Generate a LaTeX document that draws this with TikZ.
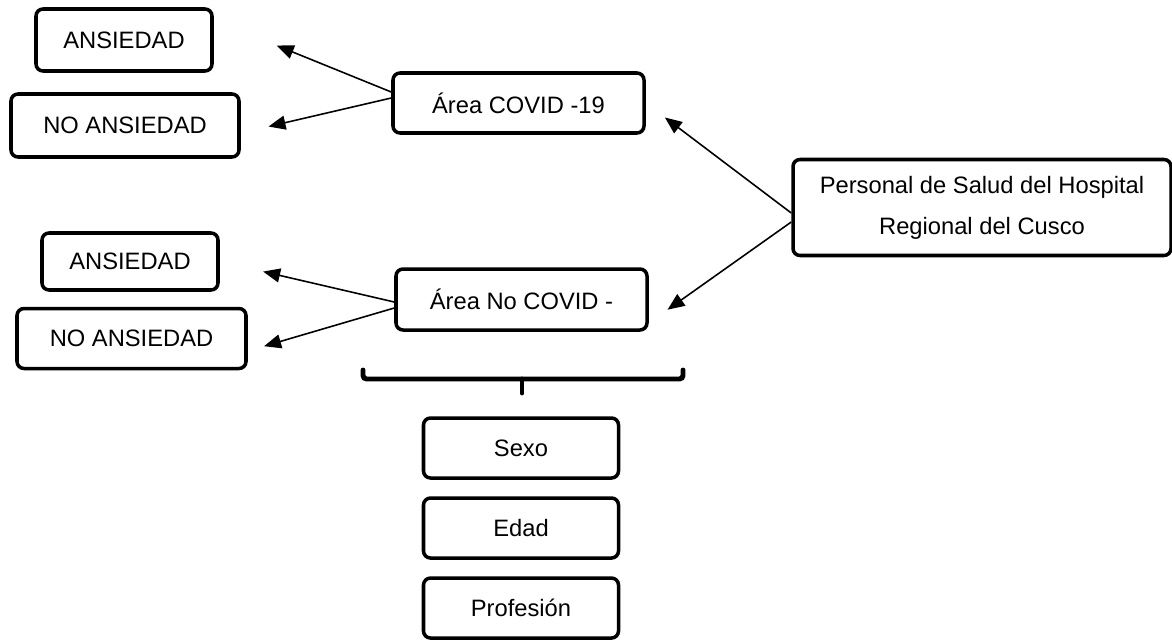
\documentclass[tikz,border=0pt]{standalone}
\usepackage{fontspec}
\setmainfont{Liberation Sans}
\usetikzlibrary{positioning,arrows.meta}

\begin{document}
\begin{tikzpicture}[
    node distance=0.33cm,
    box/.style={rectangle, rounded corners=4pt, draw=black, line width=2pt,
                align=center, inner sep=2pt,
                font=\fontsize{13.5pt}{16pt}\selectfont},
    arr/.style={-{Triangle[length=0.34cm,width=0.28cm]}, line width=0.9pt},
    bracket/.style={line width=2.8pt, rounded corners=2pt, line cap=round}
  ]
    \useasboundingbox (0,0) rectangle (23.44,-12.78);

    \node[box, minimum width=3.52cm, minimum height=1.24cm] (ans1) at (2.48,-0.80) {ANSIEDAD};
    \node[box, minimum width=4.56cm, minimum height=1.26cm] (noans1) at (2.50,-2.51) {NO ANSIEDAD};
    \node[box, minimum width=3.52cm, minimum height=1.14cm] (ans2) at (2.60,-5.23) {ANSIEDAD};
    \node[box, minimum width=4.58cm, minimum height=1.20cm] (noans2) at (2.63,-6.77) {NO ANSIEDAD};

    \node[box, minimum width=5.02cm, minimum height=1.20cm] (covid) at (10.37,-2.06) {Área COVID -19};
    \node[box, minimum width=5.02cm, minimum height=1.22cm] (nocovid) at (10.43,-5.99) {Área No COVID -};

    \node[box, minimum width=7.56cm, minimum height=1.92cm,
          font=\fontsize{13.5pt}{23.3pt}\selectfont] (pers) at (19.64,-4.15)
          {Personal de Salud del Hospital\\ Regional del Cusco};

    \node[box, minimum width=3.90cm, minimum height=1.20cm] (sexo) at (10.42,-8.96) {Sexo};
    \node[box, minimum width=3.90cm, minimum height=1.20cm, below=of sexo] (edad) {Edad};
    \node[box, minimum width=3.90cm, minimum height=1.20cm, below=of edad] (prof) {Profesión};

    \draw[arr, shorten >=0.48cm] ([yshift=-0.11cm]pers.west) -- (covid.east);
    \draw[arr, shorten >=0.46cm] ([yshift=-0.29cm]pers.west) -- ([yshift=-0.47cm]nocovid.east);
    \draw[arr, shorten >=1.36cm] ([yshift=0.22cm]covid.west) -- ([yshift=0.40cm]ans1.east);
    \draw[arr, shorten >=0.57cm] ([yshift=0.10cm]covid.west) -- ([yshift=-0.15cm]noans1.east);
    \draw[arr, shorten >=0.89cm] ([yshift=-0.05cm]nocovid.west) -- ([yshift=0.00cm]ans2.east);
    \draw[arr, shorten >=0.34cm] ([yshift=-0.17cm]nocovid.west) -- ([yshift=-0.25cm]noans2.east);

    % bracket under the areas
    \draw[bracket] (7.26,-7.40) -- (7.26,-7.58) -- (13.66,-7.58) -- (13.66,-7.40);
    \draw[bracket] (10.44,-7.58) -- (10.44,-7.86);
\end{tikzpicture}
\end{document}
